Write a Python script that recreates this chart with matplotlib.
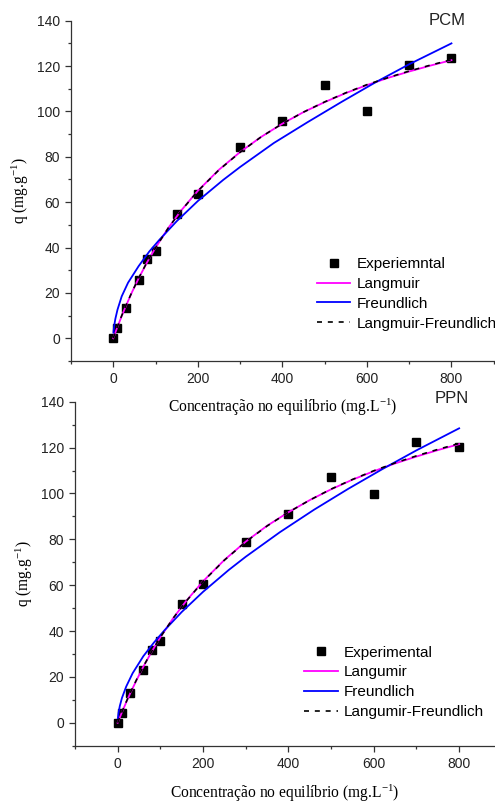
import numpy as np
import matplotlib
matplotlib.use("Agg")
import matplotlib.pyplot as plt
from matplotlib.ticker import MultipleLocator

plt.rcParams['font.family'] = ['Liberation Sans', 'DejaVu Sans']
plt.rcParams['mathtext.fontset'] = 'custom'
plt.rcParams['mathtext.rm'] = 'Liberation Serif'
plt.rcParams['mathtext.it'] = 'Liberation Serif:italic'
plt.rcParams['mathtext.default'] = 'regular'

# experimental points (same concentrations for both adsorbents)
c_exp = [0, 10, 30, 60, 80, 100, 150, 200, 300, 400, 500, 600, 700, 800]
q_pcm = [0.3, 4.5, 13.4, 25.8, 35.0, 38.6, 54.8, 63.4, 84.2, 95.7, 111.7, 100.2, 120.3, 123.5]
q_ppn = [0.0, 4.1, 12.9, 23.2, 31.9, 35.8, 51.6, 60.6, 78.9, 90.9, 107.0, 99.6, 122.5, 120.4]

# fitted curves
c_lang = [0, 2, 5, 10, 20, 30, 45, 60, 80, 100, 130, 160, 200, 250, 300, 350,
          400, 450, 500, 550, 600, 650, 700, 750, 800]
lang_pcm = [0, 1.0, 2.6, 5.0, 9.8, 14.3, 20.6, 26.4, 33.5, 39.9, 48.6, 56.2, 65.0, 74.3,
            82.1, 88.8, 94.6, 99.7, 104.1, 108.1, 111.6, 114.8, 117.6, 120.2, 122.6]
lf_pcm = [0, 1.1, 2.7, 5.2, 10.0, 14.5, 20.7, 26.5, 33.6, 39.9, 48.6, 56.1, 64.9, 74.2,
          82.0, 88.8, 94.6, 99.7, 104.2, 108.2, 111.8, 114.9, 117.8, 120.4, 122.8]
lang_ppn = [0, 0.9, 2.3, 4.6, 8.9, 13.1, 18.9, 24.4, 31.1, 37.3, 45.6, 53.0, 61.7, 71.0,
            79.0, 85.9, 91.8, 97.1, 101.8, 106.0, 109.7, 113.1, 116.1, 118.9, 121.5]
lf_ppn = [0, 1.0, 2.4, 4.8, 9.1, 13.3, 19.1, 24.5, 31.2, 37.3, 45.6, 52.9, 61.6, 70.9,
          78.9, 85.8, 91.8, 97.1, 101.9, 106.1, 109.9, 113.3, 116.4, 119.2, 121.8]

c_freu = [0.5, 2, 5, 10, 20, 35, 60, 85, 110, 150, 200, 260, 300, 380, 460, 540, 620, 700, 800]
freu_pcm = [2.5, 5.3, 8.6, 12.6, 18.5, 24.5, 31.8, 38.2, 43.6, 51.6, 60.5, 69.8, 75.5,
            86.1, 95.3, 104.2, 112.8, 120.8, 130.0]
freu_ppn = [2.0, 4.3, 7.3, 10.8, 15.8, 21.6, 29.0, 35.0, 40.4, 48.3, 57.1, 66.6, 72.4,
            83.1, 92.9, 102.0, 110.6, 118.8, 128.4]

fig = plt.figure(figsize=(4.95, 8.02), dpi=100)

panels = [
    dict(rect=[0.1434, 0.5499, 0.8566, 0.4243], xmax=903, q=q_pcm, lang=lang_pcm, lf=lf_pcm,
         freu=freu_pcm, name="PCM", name_xy=(790, 140.3), xpad=7.5, z=3,
         labels=["Experiemntal", "Langmuir", "Freundlich", "Langmuir-Freundlich"],
         leg_anchor=(0.5795, 0.305)),
    dict(rect=[0.1515, 0.0702, 0.8485, 0.4289], xmax=884, q=q_ppn, lang=lang_ppn, lf=lf_ppn,
         freu=freu_ppn, name="PPN", name_xy=(782, 141.6), xpad=8.5, z=1,
         labels=["Experimental", "Langumir", "Freundlich", "Langumir-Freundlich"],
         leg_anchor=(0.5452, 0.291)),
]

for p in panels:
    ax = fig.add_axes(p['rect'])
    ax.set_zorder(p['z'])
    ax.patch.set_alpha(0)
    h_exp, = ax.plot(c_exp, p['q'], 's', color='black', ms=5.5, zorder=2, linestyle='none')
    h_lang, = ax.plot(c_lang, p['lang'], color='#ff00ff', lw=1.3, zorder=3)
    h_freu, = ax.plot(c_freu, p['freu'], color='#0000ff', lw=1.3, zorder=3)
    h_lf, = ax.plot(c_lang, p['lf'], color='black', lw=1.2, linestyle=(0, (3, 3.5)), zorder=4)

    ax.set_xlim(-100, p['xmax'])
    ax.set_ylim(-10, 140)
    for s in ['top', 'right']:
        ax.spines[s].set_visible(False)
    for s in ['left', 'bottom']:
        ax.spines[s].set_color('#333333')
        ax.spines[s].set_linewidth(0.9)
    ax.xaxis.set_major_locator(MultipleLocator(200))
    ax.xaxis.set_minor_locator(MultipleLocator(100))
    ax.yaxis.set_major_locator(MultipleLocator(20))
    ax.yaxis.set_minor_locator(MultipleLocator(10))
    ax.tick_params(which='both', direction='out', color='#333333', width=0.9,
                   labelsize=10, labelcolor='#222222')
    ax.tick_params(which='major', length=4.3, pad=3.5)
    ax.tick_params(which='minor', length=2.3)

    ax.set_xlabel('Concentração no equilíbrio (mg.L$^{-1}$)', family='Liberation Serif',
                  fontsize=11.2, labelpad=p['xpad'])
    ax.set_ylabel('q (mg.g$^{-1}$)', family='Liberation Serif', fontsize=11.2, labelpad=4)

    ax.text(p['name_xy'][0], p['name_xy'][1], p['name'], fontsize=12, ha='center',
            va='center', color='#222222', clip_on=False)

    ax.legend([h_exp, h_lang, h_freu, h_lf], p['labels'], loc='upper left',
              bbox_to_anchor=p['leg_anchor'], frameon=False, fontsize=11,
              borderpad=0, borderaxespad=0, handlelength=2.2, handletextpad=0.4,
              labelspacing=0.38, numpoints=1)

fig.savefig('out.png', dpi=100)
